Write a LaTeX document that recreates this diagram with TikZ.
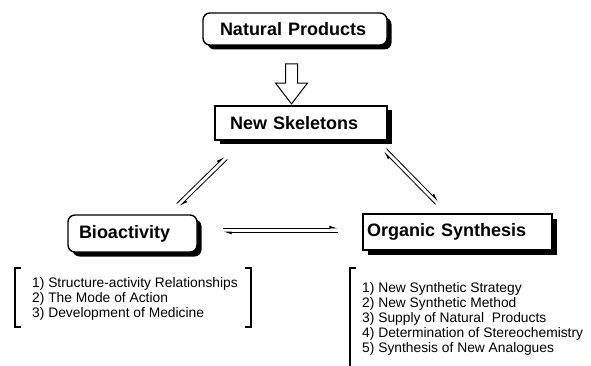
\documentclass[tikz,border=0pt]{standalone}
\usepackage{fontspec}
\setmainfont{Liberation Sans}
\usetikzlibrary{%
  arrows.meta,%
  calc,%
  shadows,%
  shapes.arrows%
}
\tikzset{>=latex, box/.style = {draw, line width=1.4pt, fill=white, align=left,
    inner ysep=0pt, font=\bfseries\fontsize{18}{20}\selectfont,
    drop shadow={shadow xshift=4.5pt, shadow yshift=-4.5pt, fill=black, opacity=1}},
  roundbox/.style = {box, rounded corners=7pt},
  listtext/.style = {anchor=base west, align=left, inner sep=0pt,
    font=\fontsize{13.8}{15}\selectfont},
  harp/.style = {line width=0.8pt, -{Latex[harpoon,length=7pt,width=5pt]}}}

\begin{document}
\begin{tikzpicture}[x=1pt,y=-1pt]
  \useasboundingbox (0,0) rectangle (591,366);
  \node[roundbox, text width=150pt, inner xsep=17pt, minimum height=32pt] (np)
  at (295,29) {Natural Products};
  \node[box, text width=142pt, inner xsep=15pt, minimum height=34pt] (skel)
  at (301,123) {New Skeletons};
  \node[roundbox, text width=107pt, inner xsep=11pt, minimum height=37pt] (bio)
  at (132.5,233.5) {Bioactivity};
  \node[box, text width=181pt, inner xsep=4pt, minimum height=36pt] (orgsyn)
  at (457.5,232) {Organic Synthesis};
  \node[single arrow, draw, line width=1pt, rotate=-90, minimum height=40pt,
  minimum width=31pt, inner sep=5.5pt, single arrow head extend=10pt,
  single arrow tip angle=75] (down) at (291.5,80) {};
  % equilibrium arrows
  \coordinate (b1) at (178,205); \coordinate (s1) at (226,158);
  \coordinate (s2) at (385,150); \coordinate (o1) at (437,203);
  \coordinate (b2) at (223,230); \coordinate (o2) at (338,230);
  \draw[harp] ($(b1)!2pt!90:(s1)$) -- ($(s1)!2pt!-90:(b1)$);
  \draw[harp] ($(s1)!2pt!90:(b1)$) -- ($(b1)!2pt!-90:(s1)$);
  \draw[harp] ($(s2)!2pt!90:(o1)$) -- ($(o1)!2pt!-90:(s2)$);
  \draw[harp] ($(o1)!2pt!90:(s2)$) -- ($(s2)!2pt!-90:(o1)$);
  \draw[harp] ($(b2)!2pt!90:(o2)$) -- ($(o2)!2pt!-90:(b2)$);
  \draw[harp] ($(o2)!2pt!90:(b2)$) -- ($(b2)!2pt!-90:(o2)$);
  % lists
  \node[listtext] (biolist) at (32,317) {1) Structure-activity Relationships\\
    2) The Mode of Action\\3) Development of Medicine};
  \draw[line width=1.2pt] (21,268) -- (15,268) -- (15,327) -- (21,327);
  \draw[line width=1.2pt] (245,268) -- (251,268) -- (251,327) -- (245,327);
  \node[listtext] (synlist) at (362,352) {1) New Synthetic Strategy\\
    2) New Synthetic Method\\3) Supply of Natural\ \ Products\\
    4) Determination of Stereochemistry\\5) Synthesis of New Analogues};
  \draw[line width=1.2pt] (356,268) -- (350,268) -- (350,366);
\end{tikzpicture}
\end{document}
